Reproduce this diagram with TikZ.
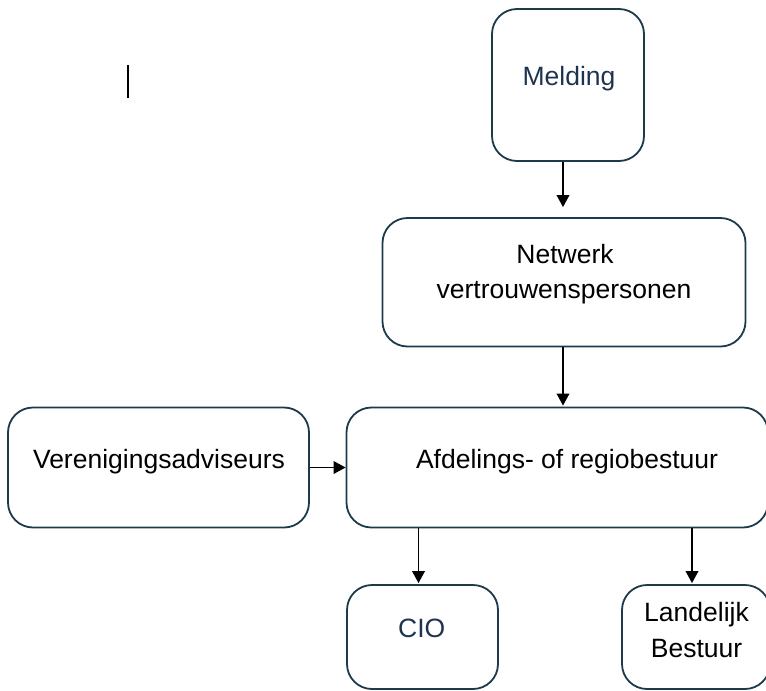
\documentclass[tikz,border=0pt]{standalone}
\usepackage{fontspec}
\setmainfont{Liberation Sans}
\usetikzlibrary{arrows.meta,calc}
\definecolor{edgecol}{HTML}{1D3A4A}
\definecolor{navytxt}{HTML}{1F3350}
\begin{document}
\begin{tikzpicture}[x=1pt,y=-1pt,
  box/.style={draw=edgecol, line width=1.8pt, rounded corners=25pt, inner sep=0pt},
  lbl/.style={font=\fontsize{26.5}{35.5}\selectfont, text=black, inner sep=0pt, anchor=base, align=center},
  navy/.style={text=navytxt},
  arr/.style={-{Triangle[width=12.5pt,length=12pt]}, line width=1.9pt, black}]
\useasboundingbox (0,0) rectangle (766,691);
\clip (0,0) rectangle (766,691);
% boxes
\node[box, minimum width=152pt, minimum height=152pt] (melding) at (568,85) {};
\node[box, minimum width=363pt, minimum height=128.5pt] (netwerk) at (564,282.25) {};
\node[box, minimum width=421.5pt, minimum height=120pt] (afd) at (557.25,467.5) {};
\node[box, minimum width=301pt, minimum height=120pt] (ver) at (158.5,467.5) {};
\node[box, minimum width=151pt, minimum height=104pt] (cio) at (422.5,637) {};
\node[box, minimum width=148pt, minimum height=104pt] (land) at (696,637) {};
% texts
\node[lbl, navy] (meldingt) at (569,85) {Melding};
\node[lbl] (netwerkt1) at (565,263) {Netwerk};
\node[lbl] (netwerkt2) at (564,298) {vertrouwenspersonen};
\node[lbl] (afdt) at (567,468) {Afdelings- of regiobestuur};
\node[lbl] (vert) at (159,468) {Verenigingsadviseurs};
\node[lbl, navy] (ciot) at (421.7,637) {CIO};
\node[lbl] (landt1) at (696.5,621.7) {Landelijk};
\node[lbl] (landt2) at (696.5,657) {Bestuur};
% cursor mark
\coordinate (cur1) at (128,65);
\coordinate (cur2) at (128,98);
\draw[line width=2pt, black] (cur1) -- (cur2);
% connectors
\draw[arr, shorten >=10pt] ($(melding.south -| netwerk.north)+(-1,0)$) -- ($(netwerk.north)+(-1,0)$);
\draw[arr, shorten >=1pt] ($(netwerk.south)+(-1,0)$) -- ($(afd.north -| netwerk.south)+(-1,0)$);
\draw[arr] (ver.east) -- (afd.west);
\draw[arr, shorten >=1pt] ($(afd.south -| cio.north)+(-4,0)$) -- ($(cio.north)+(-4,0)$);
\draw[arr, shorten >=1pt] ($(afd.south -| land.north)+(-4,0)$) -- ($(land.north)+(-4,0)$);
\end{tikzpicture}
\end{document}
